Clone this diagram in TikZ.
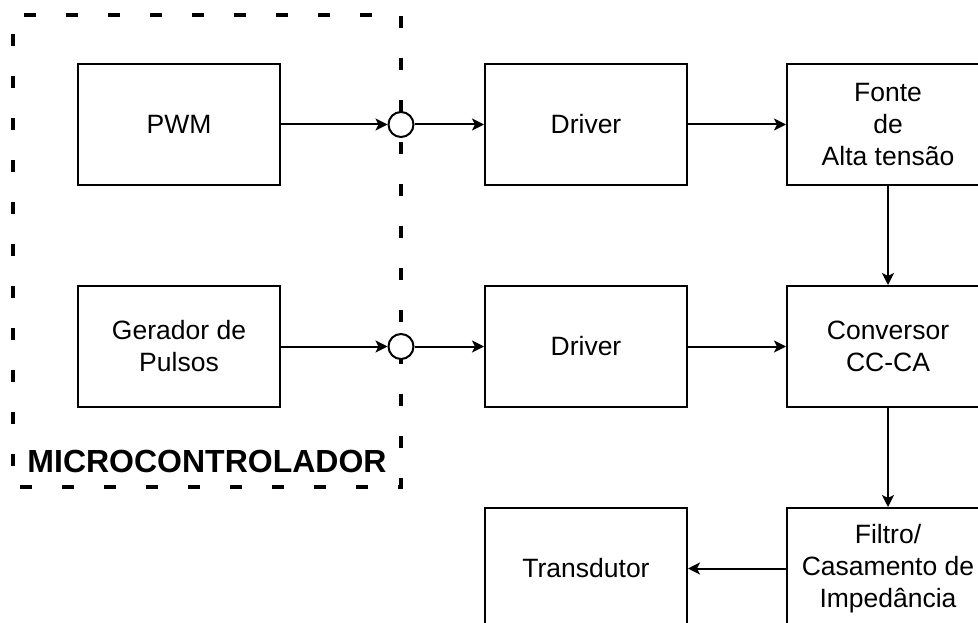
\documentclass[tikz,border=0pt]{standalone}
\usepackage{fontspec}
\setmainfont{Liberation Sans}
\usetikzlibrary{arrows.meta,positioning}
\tikzset{
  blockbox/.style={draw=black, line width=2pt, fill=white, minimum width=202pt, minimum height=121pt, align=center, inner sep=0pt, font=\fontsize{26.5}{32}\selectfont},
  junction/.style={circle, draw=black, line width=2pt, fill=white, minimum size=25pt, inner sep=0pt},
  groupbox/.style={draw=black, line width=4.5pt, dash pattern=on 12pt off 30pt, dash phase=-7pt, minimum width=388pt, minimum height=472pt, inner sep=0pt},
  conn/.style={line width=2pt, -{Stealth[length=12pt,width=12pt,inset=3pt]}},
}
\begin{document}
\begin{tikzpicture}[x=1pt,y=-1pt]
\useasboundingbox (0,0) rectangle (978,623);
\clip (0,0) rectangle (978,623);
\node[groupbox] (micro) at (207,251) {};
\node[font=\fontsize{32}{36}\bfseries\selectfont, inner sep=0pt] (microlbl) at (207,461) {MICROCONTROLADOR};
\node[blockbox] (pwm) at (179,124.5) {PWM};
\node[blockbox] (gerador) at (179,346.5) {Gerador de\\Pulsos};
\node[junction] (c1) at (401,124.5) {};
\node[junction] (c2) at (401,346.5) {};
\node[blockbox] (drv1) at (586,124.5) {Driver};
\node[blockbox] (drv2) at (586,346.5) {Driver};
\node[blockbox] (fonte) at (888,124.5) {Fonte\\de\\Alta tensão};
\node[blockbox] (conv) at (888,346.5) {Conversor\\CC-CA};
\node[blockbox] (trans) at (586,568.5) {Transdutor};
\node[blockbox] (filtro) at (888,568.5) {Filtro/\\Casamento de\\Impedância};
\draw[conn] (pwm) -- (c1);
\draw[conn] (c1) -- (drv1);
\draw[conn] (gerador) -- (c2);
\draw[conn] (c2) -- (drv2);
\draw[conn] (drv1) -- (fonte);
\draw[conn] (drv2) -- (conv);
\draw[conn] (fonte) -- (conv);
\draw[conn] (conv) -- (filtro);
\draw[conn] (filtro) -- (trans);
\end{tikzpicture}
\end{document}
